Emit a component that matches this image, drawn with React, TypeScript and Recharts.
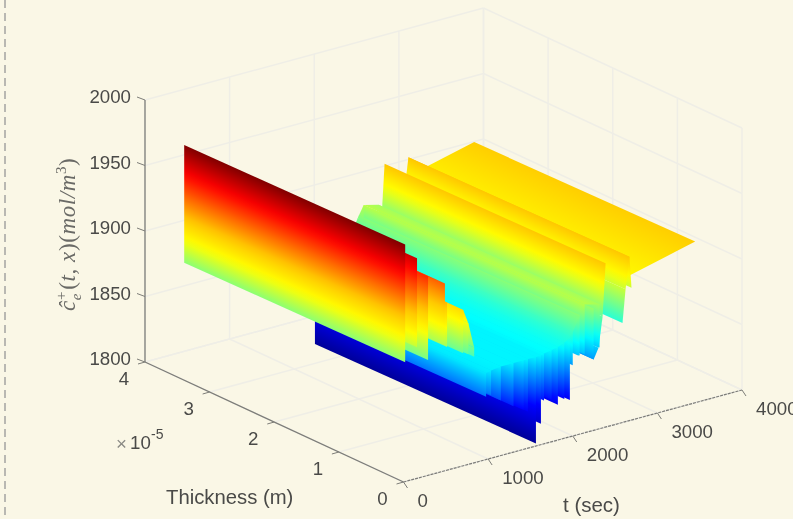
import React from "react";
import { ScatterChart, Scatter, XAxis, YAxis } from "recharts";

// Surface: each strip runs along thickness between (t0, c0) and (t1, c1); listed back to front
const stripT0 = [2682, 2694, 2624, 2588, 2353, 2305, 2247, 2317, 2141, 2070, 2247, 2141, 2082, 2070, 2000, 2000, 1966, 1966, 1900, 1900, 1824, 1824, 1750, 1750, 1660, 1660, 1624, 1624, 1565, 1565, 1470, 1470, 1420, 1420, 1300, 1300, 1150, 1150, 1035, 1035, 976, 976, 835, 765, 765, 705, 705, 515, 515, 490, 290, 290, 160, 20];
const stripC0 = [1911, 1901, 1901, 1876, 1885, 1862, 1854, 1862, 1898, 1889, 1854, 1860, 1860, 1860, 1879, 1854, 1876, 1828, 1873, 1830, 1871, 1827, 1870, 1832, 1869, 1833, 1868, 1816, 1868, 1802, 1868, 1828, 1868, 1830, 1868, 1835, 1868, 1842, 1867, 1848, 1866, 1848, 1881, 1908, 1884, 1919, 1886, 1928, 1894, 1896, 1952, 1888, 1900, 1891];
const stripT1 = [3447, 2670, 2670, 2624, 2388, 2353, 2305, 2317, 2317, 2141, 2247, 2141, 2082, 2070, 2070, 2000, 2000, 1966, 1966, 1900, 1900, 1824, 1824, 1750, 1750, 1660, 1660, 1624, 1624, 1565, 1565, 1470, 1470, 1420, 1420, 1300, 1300, 1150, 1150, 1035, 1035, 976, 835, 835, 765, 765, 705, 705, 515, 490, 490, 290, 160, 20];
const stripC1 = [1923, 1925, 1925, 1901, 1925, 1885, 1862, 1895, 1895, 1898, 1893, 1898, 1891, 1889, 1889, 1879, 1879, 1876, 1876, 1873, 1873, 1871, 1871, 1870, 1870, 1869, 1869, 1868, 1868, 1868, 1868, 1868, 1868, 1868, 1868, 1868, 1868, 1868, 1868, 1867, 1867, 1866, 1888, 1888, 1908, 1908, 1919, 1919, 1928, 1943, 1943, 1952, 1968, 1981];

const zTicks = [1800, 1850, 1900, 1950, 2000];
const tTicks = [0, 1000, 2000, 3000, 4000];
const xTicks = [0, 1, 2, 3, 4]; // x 10^-5 m

// colour scale: concentration -> position on the jet map
const colourC = [1795, 1830, 1909, 1925, 1981];
const colourV = [0, 0.125, 0.625, 0.68, 1];

const W = 793;
const H = 519;
const BG = "#FAF7E6";
// projection of the 3-D box on the picture plane
const project = (t: number, x: number, z: number): [number, number] => [
  403.5 + (t / 4000) * 338.5 - (x / 4) * 258.5,
  482 - (t / 4000) * 92 - (x / 4) * 120 - (z - 1800) * 1.31,
];
const EXTRUDE: [number, number] = [-221, -99.5];

const clamp = (v: number) => Math.max(0, Math.min(1, v));
const jet = (v: number) => {
  const r = clamp(Math.min(4 * v - 1.5, -4 * v + 4.5));
  const g = clamp(Math.min(4 * v - 0.5, -4 * v + 3.5));
  const b = clamp(Math.min(4 * v + 0.5, -4 * v + 2.5));
  return `rgb(${Math.round(r * 255)},${Math.round(g * 255)},${Math.round(b * 255)})`;
};
const norm = (c: number) => {
  for (let i = 1; i < colourC.length; i++) {
    if (c <= colourC[i]) {
      return colourV[i - 1] + ((c - colourC[i - 1]) / (colourC[i] - colourC[i - 1])) * (colourV[i] - colourV[i - 1]);
    }
  }
  return 1;
};

const strips = stripT0.map((t0, i) => {
  const [px, py] = project(t0, 0, stripC0[i]);
  const [qx, qy] = project(stripT1[i], 0, stripC1[i]);
  return { px, py, dx: qx - px, dy: qy - py, c0: stripC0[i], c1: stripC1[i], id: `g${i}` };
});

const StripShape = (props: any) => {
  const { cx, cy, payload: s } = props;
  const [ex, ey] = EXTRUDE;
  const pts = [
    [cx, cy],
    [cx + s.dx, cy + s.dy],
    [cx + s.dx + ex, cy + s.dy + ey],
    [cx + ex, cy + ey],
  ]
    .map((p) => p.join(","))
    .join(" ");
  const len = Math.hypot(ex, ey);
  const nx = -ey / len;
  const ny = ex / len;
  const L = s.dx * nx + s.dy * ny;
  const n = Math.max(2, Math.ceil(Math.abs(s.c1 - s.c0) / 5));
  const stops = Array.from({ length: n + 1 }, (_, i) => i / n);
  return (
    <g>
      <defs>
        <linearGradient id={s.id} gradientUnits="userSpaceOnUse" x1={cx} y1={cy} x2={cx + nx * L} y2={cy + ny * L}>
          {stops.map((o, i) => (
            <stop key={i} offset={o} stopColor={jet(norm(s.c0 + o * (s.c1 - s.c0)))} />
          ))}
        </linearGradient>
      </defs>
      <polygon points={pts} fill={`url(#${s.id})`} stroke="none" />
    </g>
  );
};

type Seg = { px: number; py: number; dx: number; dy: number; stroke: string; w: number; dash?: string };
const seg = (a: [number, number], b: [number, number], stroke: string, w: number, dash?: string): Seg => ({
  px: a[0],
  py: a[1],
  dx: b[0] - a[0],
  dy: b[1] - a[1],
  stroke,
  w,
  dash,
});
const GRID = "#EFEEE6";
const AXIS = "#7d7d78";
const gridSegs: Seg[] = [];
tTicks.forEach((t) => {
  gridSegs.push(seg(project(t, 0, 1800), project(t, 4, 1800), GRID, 1.5));
  gridSegs.push(seg(project(t, 4, 1800), project(t, 4, 2000), GRID, 1.5));
});
xTicks.forEach((x) => {
  gridSegs.push(seg(project(0, x, 1800), project(4000, x, 1800), GRID, 1.5));
  gridSegs.push(seg(project(4000, x, 1800), project(4000, x, 2000), GRID, 1.5));
});
zTicks.forEach((z) => {
  gridSegs.push(seg(project(0, 4, z), project(4000, 4, z), GRID, 1.5));
  gridSegs.push(seg(project(4000, 4, z), project(4000, 0, z), GRID, 1.5));
});
const axisSegs: Seg[] = [
  seg(project(0, 4, 1800), project(0, 4, 2000), AXIS, 1.3),
  seg(project(0, 4, 1800), project(0, 0, 1800), AXIS, 1.3),
  seg(project(0, 0, 1800), project(4000, 0, 1800), AXIS, 1.2, "3 1"),
];
zTicks.forEach((z) => {
  const p = project(0, 4, z);
  axisSegs.push(seg(p, [p[0] - 8, p[1] - 3], AXIS, 1));
});
xTicks.forEach((x) => {
  const p = project(0, x, 1800);
  axisSegs.push(seg(p, [p[0] - 7, p[1] + 2], AXIS, 1));
});
tTicks.forEach((t) => {
  const p = project(t, 0, 1800);
  axisSegs.push(seg(p, [p[0] + 4, p[1] + 6], AXIS, 1));
});
const frameSegs: Seg[] = [seg([5, 0], [5, H], "#B9B8B2", 2, "8 5")];

const SegShape = (props: any) => {
  const { cx, cy, payload: s } = props;
  return <line x1={cx} y1={cy} x2={cx + s.dx} y2={cy + s.dy} stroke={s.stroke} strokeWidth={s.w} strokeDasharray={s.dash} />;
};

type Lab = { px: number; py: number; label: string; anchor?: string; size?: number; fill?: string };
const labels: Lab[] = [];
zTicks.forEach((z) => {
  const p = project(0, 4, z);
  labels.push({ px: p[0] - 14, py: p[1] - 3.5, label: String(z), anchor: "end" });
});
xTicks.forEach((x) => {
  const p = project(0, x, 1800);
  labels.push({ px: p[0] - 21, py: p[1] + 16, label: String(x), anchor: "middle" });
});
tTicks.forEach((t) => {
  const p = project(t, 0, 1800);
  labels.push({ px: p[0] + 14, py: p[1] + 18, label: String(t), anchor: "start" });
});
labels.push({ px: 166, py: 497, label: "Thickness (m)", anchor: "start", size: 20.3 });
labels.push({ px: 563, py: 504, label: "t (sec)", anchor: "start", size: 20.5 });
labels.push({ px: 116, py: 443, label: "×", anchor: "start", fill: "#8a8a85" });
labels.push({ px: 130, py: 442, label: "10", anchor: "start" });
labels.push({ px: 151, py: 434, label: "-5", anchor: "start", size: 14 });

const LabelShape = (props: any) => {
  const { cx, cy, payload: l } = props;
  return (
    <text
      x={cx}
      y={cy}
      textAnchor={l.anchor}
      dominantBaseline="central"
      fontFamily="'Liberation Sans', Arial, sans-serif"
      fontSize={l.size ?? 18.7}
      fill={l.fill ?? "#4a4a48"}
    >
      {l.label}
    </text>
  );
};

const yLabelAnchor = [{ px: 75, py: 311 }];
const YLabelShape = (props: any) => {
  const { cx, cy } = props;
  return (
    <text
      x={cx}
      y={cy}
      transform={`rotate(-90 ${cx} ${cy})`}
      fontFamily="'Liberation Serif', serif"
      fontSize={23}
      letterSpacing={0.6}
      fontStyle="italic"
      fill="#6a6a66"
    >
      {"ĉ"}
      <tspan dy={6} fontSize={15}>e</tspan>
      <tspan dy={-15} dx={-7} fontSize={15} fontStyle="normal">+</tspan>
      <tspan dy={9} dx={1} fontStyle="normal">(</tspan>t, x
      <tspan fontStyle="normal">)(</tspan>mol/m
      <tspan dy={-9} fontSize={15} fontStyle="normal">3</tspan>
      <tspan dy={9} fontStyle="normal">)</tspan>
    </text>
  );
};

export default function App() {
  return (
    <div style={{ position: "fixed", left: 0, top: 0, width: W, height: H, background: BG, overflow: "hidden" }}>
      <div style={{ filter: "blur(0.6px)", width: W, height: H }}>
        <ScatterChart width={W} height={H} margin={{ top: 0, right: 0, bottom: 0, left: 0 }}>
          <XAxis type="number" dataKey="px" domain={[0, W]} hide />
          <YAxis type="number" dataKey="py" domain={[0, H]} reversed hide />
          <Scatter data={frameSegs} shape={SegShape} isAnimationActive={false} />
          <Scatter data={gridSegs} shape={SegShape} isAnimationActive={false} />
          <Scatter data={axisSegs} shape={SegShape} isAnimationActive={false} />
          <Scatter data={strips} shape={StripShape} isAnimationActive={false} />
          <Scatter data={labels} shape={LabelShape} isAnimationActive={false} />
          <Scatter data={yLabelAnchor} shape={YLabelShape} isAnimationActive={false} />
        </ScatterChart>
      </div>
    </div>
  );
}
